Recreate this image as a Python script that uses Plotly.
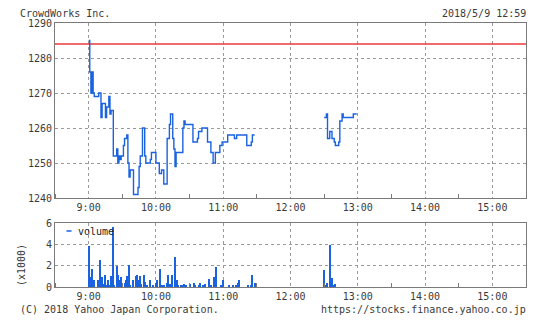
import plotly.graph_objects as go

DAY = "2018-05-09 "

# ---- data -------------------------------------------------------------
title_text = "CrowdWorks Inc."
stamp_text = "2018/5/9 12:59"
prev_close = 1284

am_times = ["09:00", "09:01", "09:02", "09:03", "09:04", "09:05", "09:09", "09:11", "09:12", "09:15",
            "09:16", "09:18", "09:19", "09:20", "09:22", "09:25", "09:26", "09:27", "09:28", "09:29",
            "09:31", "09:32", "09:34", "09:35", "09:36", "09:37", "09:40", "09:44", "09:45", "09:46",
            "09:48", "09:50", "09:51", "09:55", "09:56", "10:00", "10:03", "10:05", "10:07", "10:10",
            "10:12", "10:13", "10:15", "10:16", "10:17", "10:18", "10:24", "10:25", "10:26", "10:33",
            "10:37", "10:38", "10:41", "10:46", "10:49", "10:51", "10:53", "10:57", "10:59", "11:04",
            "11:10", "11:12", "11:21", "11:25", "11:26", "11:28"]
am_prices = [1285, 1276, 1270, 1276, 1270, 1269, 1270, 1263, 1267, 1263,
             1266, 1269, 1264, 1265, 1252, 1254, 1250, 1252, 1251, 1252,
             1255, 1257, 1258, 1250, 1246, 1248, 1241, 1243, 1249, 1252,
             1260, 1252, 1250, 1251, 1253, 1250, 1247, 1248, 1244, 1257,
             1261, 1264, 1257, 1254, 1249, 1253, 1260, 1262, 1261, 1256,
             1257, 1259, 1260, 1256, 1253, 1250, 1253, 1255, 1256, 1258,
             1257, 1258, 1255, 1256, 1258, 1258]

pm_times = ["12:30", "12:32", "12:33", "12:35", "12:37", "12:39", "12:40", "12:43", "12:44", "12:46",
            "12:47", "12:56", "12:59"]
pm_prices = [1263, 1264, 1257, 1259, 1257, 1256, 1255, 1256, 1262, 1264,
             1263, 1264, 1264]

vol_times = ["09:00", "09:01", "09:03", "09:04", "09:05", "09:08", "09:09", "09:10", "09:11", "09:12",
             "09:13", "09:15", "09:16", "09:17", "09:18", "09:20", "09:22", "09:23", "09:25", "09:26",
             "09:28", "09:29", "09:30", "09:32", "09:33", "09:34", "09:36", "09:37", "09:40", "09:42",
             "09:43", "09:45", "09:46", "09:47", "09:49", "09:50", "09:52", "09:55", "09:57", "10:00",
             "10:01", "10:04", "10:05", "10:07", "10:10", "10:11", "10:13", "10:14", "10:17", "10:19",
             "10:20", "10:22", "10:24", "10:25", "10:27", "10:30", "10:34", "10:35", "10:38", "10:39",
             "10:42", "10:44", "10:47", "10:49", "10:52", "10:54", "10:58", "11:00", "11:05", "11:09",
             "11:11", "11:13", "11:14", "11:22", "11:25", "11:26", "11:28", "11:29",
             "12:30", "12:31", "12:33", "12:35", "12:36", "12:37", "12:39", "12:40"]
vol_values = [3800, 900, 1700, 350, 700, 700, 200, 2500, 700, 900,
              300, 1100, 150, 700, 100, 1000, 5600, 150, 2000, 1100,
              650, 900, 100, 350, 650, 1000, 2100, 150, 700, 1000,
              1100, 700, 1000, 300, 1100, 500, 100, 700, 100, 400,
              700, 1700, 150, 100, 350, 1100, 300, 1100, 2800, 700,
              150, 100, 150, 300, 100, 300, 400, 150, 100, 400,
              100, 300, 750, 100, 950, 1900, 100, 700, 100, 100,
              150, 350, 700, 200, 200, 1100, 350, 350,
              1550, 200, 350, 3900, 200, 800, 150, 300]

x_start, x_end = "08:30", "15:30"
price_range = [1240, 1290]
vol_range = [0, 6]
vol_ticks = [0, 2, 4, 6]

# ---- figure -----------------------------------------------------------
def ts(t):
    return DAY + t + ":00"

BLUE = "#1a62e0"
RED = "#e8393a"
GRID = "#9a9a9a"
FRAME = "#7a7a7a"
TXT = "#3a3a3a"
FONT = "DejaVu Sans Mono"

W, H = 548, 322
ML, MR, MT, MB = 55, 22, 23, 35
PW, PH = W - ML - MR, H - MT - MB


def px_x(px):
    return (px - ML) / PW


def px_y(py):
    return (H - MB - py) / PH


fig = go.Figure()

fig.add_trace(go.Scatter(x=[ts(x_start), ts(x_end)], y=[prev_close, prev_close],
                         mode="lines", line=dict(color=RED, width=1.3),
                         xaxis="x", yaxis="y", showlegend=False, hoverinfo="skip"))
fig.add_trace(go.Scatter(x=[ts(t) for t in am_times], y=am_prices, mode="lines",
                         line=dict(color=BLUE, width=1.4, shape="hv"),
                         xaxis="x", yaxis="y", showlegend=False))
fig.add_trace(go.Scatter(x=[ts(t) for t in pm_times], y=pm_prices, mode="lines",
                         line=dict(color=BLUE, width=1.4, shape="hv"),
                         xaxis="x", yaxis="y", showlegend=False))
fig.add_trace(go.Bar(x=[ts(t) for t in vol_times], y=[v / 1000 for v in vol_values],
                     width=55000, marker=dict(color=BLUE, line=dict(width=0)),
                     xaxis="x2", yaxis="y2", showlegend=False))

xcommon = dict(type="date", range=[ts(x_start), ts(x_end)],
               dtick=3600000, tick0=ts("09:00"), tickformat="%-H:%M",
               showgrid=True, gridcolor=GRID, griddash="3px,3px", gridwidth=1,
               showline=True, linecolor=FRAME, linewidth=1, mirror=True,
               ticks="", zeroline=False,
               tickfont=dict(family=FONT, size=10, color=TXT),
               minor=dict(dtick=1800000, tick0=ts("09:00"), ticks="inside",
                          ticklen=4, tickcolor=FRAME, showgrid=False))

fig.update_layout(
    width=W, height=H,
    margin=dict(l=ML, r=MR, t=MT, b=MB),
    paper_bgcolor="white", plot_bgcolor="white",
    bargap=0,
    xaxis=dict(**xcommon, anchor="y"),
    xaxis2=dict(**xcommon, anchor="y2"),
    yaxis=dict(domain=[px_y(198), 1.0], range=price_range, dtick=10,
               showgrid=True, gridcolor=GRID, griddash="3px,3px",
               showline=True, linecolor=FRAME, linewidth=1, mirror=True,
               zeroline=False, ticks="",
               tickfont=dict(family=FONT, size=10, color=TXT)),
    yaxis2=dict(domain=[0.0, px_y(223)], range=vol_range, tickvals=vol_ticks,
                showgrid=True, gridcolor=GRID, griddash="3px,3px",
                showline=True, linecolor=FRAME, linewidth=1, mirror=True,
                zeroline=False, ticks="",
                tickfont=dict(family=FONT, size=10, color=TXT)),
    font=dict(family=FONT, size=10, color=TXT),
)

def label(text, x, y, anchor="left", angle=0, color=TXT):
    fig.add_annotation(xref="paper", yref="paper", x=px_x(x), y=px_y(y),
                       xanchor=anchor, yanchor="middle", showarrow=False,
                       textangle=angle, borderpad=0,
                       text=text, font=dict(family=FONT, size=10, color=color))

label(title_text, 19, 13.5)
label(stamp_text, 527, 13.5, anchor="right")
label("(C) 2018 Yahoo Japan Corporation.", 19, 309)
label("https://stocks.finance.yahoo.co.jp", 527, 309, anchor="right")
label("(x1000)", 21, 265, anchor="center", angle=-90)

# legend for the volume panel
fig.add_shape(type="line", xref="paper", yref="paper",
              x0=px_x(66.5), x1=px_x(71.5), y0=px_y(231), y1=px_y(231),
              line=dict(color=BLUE, width=1.5))
label("volume", 76.5, 231, color="#222")

fig.write_html("out.html")
